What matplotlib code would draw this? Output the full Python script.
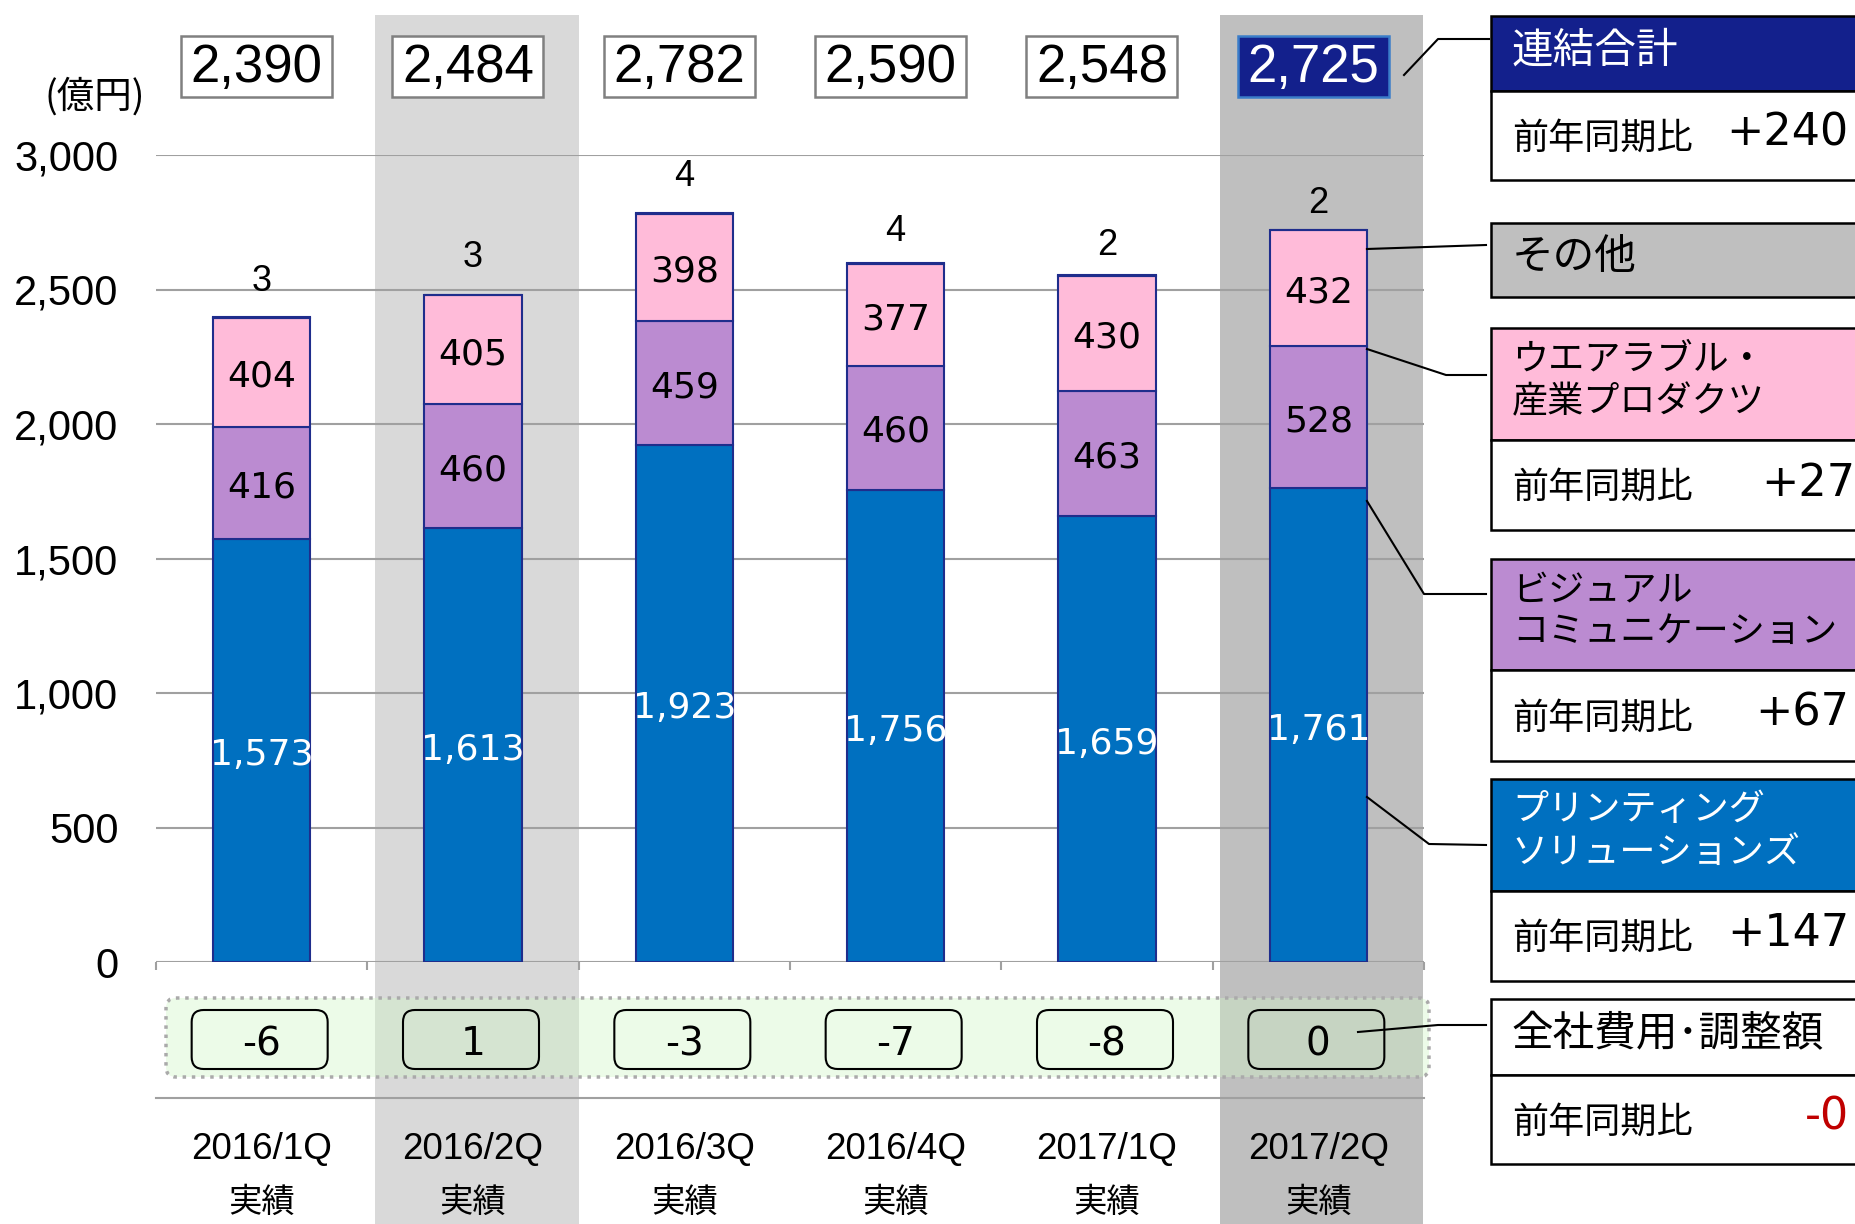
import matplotlib
matplotlib.use("Agg")
import matplotlib.pyplot as plt
from matplotlib.patches import Rectangle, FancyBboxPatch
from matplotlib import font_manager

# ---- data (億円) ----
quarters = ["2016/1Q", "2016/2Q", "2016/3Q", "2016/4Q", "2017/1Q", "2017/2Q"]
printing = [1573, 1613, 1923, 1756, 1659, 1761]
visual = [416, 460, 459, 460, 463, 528]
wearable = [404, 405, 398, 377, 430, 432]
other = [3, 3, 4, 4, 2, 2]
adjust = [-6, 1, -3, -7, -8, 0]
totals = [2390, 2484, 2782, 2590, 2548, 2725]

seg_names = ["連結合計", "その他", "ウエアラブル・\n産業プロダクツ",
             "ビジュアル\nコミュニケーション", "プリンティング\nソリューションズ",
             "全社費用･調整額"]
yoy = ["+240", None, "+27", "+67", "+147", "-0"]

# ---- styles ----
C_PRINT = "#0070c0"
C_VIS = "#bb8bd1"
C_WEAR = "#ffbbd9"
C_NAVY = "#13208c"
C_EDGE = "#1f2d8c"
JP = ["Noto Sans CJK JP", "DejaVu Sans"]
names = {f.name for f in font_manager.fontManager.ttflist}
LAT = "Liberation Sans" if "Liberation Sans" in names else "DejaVu Sans"
VER = "DejaVu Sans"

W, H = 1856, 1224
fig = plt.figure(figsize=(W / 100, H / 100), dpi=100)
fig.patch.set_facecolor("white")

# plot area in pixels
x0, x1 = 156, 1424
y0, y3k = 962, 155
ax = fig.add_axes([x0 / W, 1 - y0 / H, (x1 - x0) / W, (y0 - y3k) / H])
ax.set_xlim(-0.5, 5.5)
ax.set_ylim(0, 3000)

ov = fig.add_axes([0, 0, 1, 1], zorder=5)
ov.set_xlim(0, W)
ov.set_ylim(H, 0)
ov.axis("off")
ov.patch.set_alpha(0)


def val(py):
    return (y0 - py) * 3000 / (y0 - y3k)


def cx(i):
    return x0 + (i + 0.5) * (x1 - x0) / 6


xs = list(range(len(quarters)))

# highlight bands
ax.bar([1.02, 5.015], val(15) - val(H), bottom=val(H), width=0.965,
       color=["#d9d9d9", "#bfbfbf"], clip_on=False, zorder=0)

# stacked bars
bw = 0.46
b1 = [p + v for p, v in zip(printing, visual)]
b2 = [b + w for b, w in zip(b1, wearable)]
ax.bar(xs, printing, width=bw, color=C_PRINT, edgecolor=C_EDGE, lw=1.5, zorder=3)
ax.bar(xs, visual, bottom=printing, width=bw, color=C_VIS, edgecolor=C_EDGE, lw=1.5, zorder=3)
ax.bar(xs, wearable, bottom=b1, width=bw, color=C_WEAR, edgecolor=C_EDGE, lw=1.5, zorder=3)
ax.bar(xs, other, bottom=b2, width=bw, color=C_EDGE, edgecolor=C_EDGE, lw=1.5, zorder=3)

other_off = [26, 27, 26, 23, 21, 19]
for i in xs:
    ax.annotate(f"{printing[i]:,}", (i, printing[i] / 2), xytext=(0, -3.5),
                textcoords="offset points", ha="center", va="center",
                fontsize=26, color="white", family=VER, zorder=4)
    ax.annotate(f"{visual[i]}", (i, printing[i] + visual[i] / 2), xytext=(0, -3),
                textcoords="offset points", ha="center", va="center",
                fontsize=26, color="black", family=VER, zorder=4)
    ax.annotate(f"{wearable[i]}", (i, b1[i] + wearable[i] / 2), xytext=(0, -3),
                textcoords="offset points", ha="center", va="center",
                fontsize=26, color="black", family=VER, zorder=4)
    ax.annotate(str(other[i]), (i, b2[i] + other[i]), xytext=(0, other_off[i]),
                textcoords="offset points", ha="center", va="center",
                fontsize=26, family=LAT, zorder=4)

# axes styling
for s in ax.spines.values():
    s.set_visible(False)
ax.set_yticks(range(0, 3001, 500))
ax.set_yticklabels([f"{v:,}" for v in range(0, 3001, 500)], fontsize=30, family=LAT)
ax.set_xticks([i - 0.5 for i in range(7)])
ax.set_xticklabels([])
ax.tick_params(axis="y", length=0, pad=27)
ax.tick_params(axis="x", length=6, width=1.5, color="#a0a0a0", direction="out")
ax.yaxis.grid(True, color="#a0a0a0", lw=1.5)
ax.set_axisbelow(True)
ax.patch.set_alpha(0)

ov.text(95, 97, "(億円)", fontsize=27, family=JP, ha="center", va="center")

# total boxes
for i in xs:
    last = i == len(xs) - 1
    bx = cx(i) - 5
    ov.add_patch(Rectangle((bx - 75.5, 35.5), 151, 61.5,
                           fc=C_NAVY if last else "white",
                           ec="#3a7dc9" if last else "#808080", lw=1.8))
    ov.text(bx, 68, f"{totals[i]:,}", ha="center", va="center", fontsize=38,
            family=LAT, color="white" if last else "black")

# adjustment strip
ov.add_patch(FancyBboxPatch((166, 998), 1263, 79,
                            boxstyle="round,pad=0,rounding_size=10",
                            fc=(0.82, 0.96, 0.78, 0.40), ec="#aaaaaa", lw=2.5, ls=":"))
for i in xs:
    ov.add_patch(FancyBboxPatch((cx(i) - 70, 1010), 136, 59,
                                boxstyle="round,pad=0,rounding_size=12",
                                fc="none", ec="black", lw=1.5))
    ov.text(cx(i), 1044, f"{adjust[i]}", ha="center", va="center",
            fontsize=28, family=VER)

ov.plot([x0, x1], [1098, 1098], color="#a0a0a0", lw=1.5)

# category labels
for i in xs:
    ov.text(cx(i), 1149, quarters[i], ha="center", va="center", fontsize=26.5, family=LAT)
    ov.text(cx(i), 1202, "実績", ha="center", va="center", fontsize=24, family=JP)

# right-hand legend panel
PX = 1491.5
PW = W - PX + 20
panels = [
    # header top, header bottom, row bottom, fill, text colour, font size
    (15.5, 91, 180, C_NAVY, "white", 30),
    (222.5, 297, None, "#bfbfbf", "black", 30),
    (328, 440, 530, C_WEAR, "black", 26),
    (559, 670, 761, C_VIS, "black", 26),
    (779, 891, 981, C_PRINT, "white", 26),
    (999, 1075, 1164, "white", "black", 30),
]
for k, (ht, hb, rb, fc, tc, fs) in enumerate(panels):
    ov.add_patch(Rectangle((PX, ht), PW, hb - ht, fc=fc, ec="black", lw=1.8))
    lines = seg_names[k].split("\n")
    if len(lines) == 1:
        ov.text(1512, (ht + hb) / 2 - 2, lines[0], fontsize=fs, family=JP,
                color=tc, va="center", ha="left")
    else:
        ov.text(1512, ht + (hb - ht) * 0.28, lines[0], fontsize=fs, family=JP,
                color=tc, va="center", ha="left")
        ov.text(1512, ht + (hb - ht) * 0.66, lines[1], fontsize=fs, family=JP,
                color=tc, va="center", ha="left")
    if rb is not None:
        ov.add_patch(Rectangle((PX, hb), PW, rb - hb, fc="white", ec="black", lw=1.8))
        mid = (hb + rb) / 2
        ov.text(1512, mid + 3, "前年同期比", fontsize=26, family=JP, va="center", ha="left")
        col = "#c00000" if yoy[k].startswith("-") else "black"
        if yoy[k] == "+27":
            ov.text(1761, mid - 2, yoy[k], fontsize=32, family=VER, va="center",
                    ha="left", color=col)
        else:
            ov.text(1849, mid - 2, yoy[k], fontsize=32, family=VER, va="center",
                    ha="right", color=col)

# connector lines
bar_r = ax.transData.transform((5 + bw / 2, 0))[0]
conns = [
    [(1404, 75), (1438, 39), (1489, 39)],
    [(bar_r, 249), (1486, 245)],
    [(bar_r, 349), (1446, 375), (1486, 375)],
    [(bar_r, 501), (1424, 594), (1486, 594)],
    [(bar_r, 797), (1429, 844), (1486, 845)],
    [(1358, 1032), (1438, 1025), (1486, 1025)],
]
for pts in conns:
    ov.plot([p[0] for p in pts], [p[1] for p in pts], color="black", lw=1.5)

fig.savefig("out.png", dpi=100)
